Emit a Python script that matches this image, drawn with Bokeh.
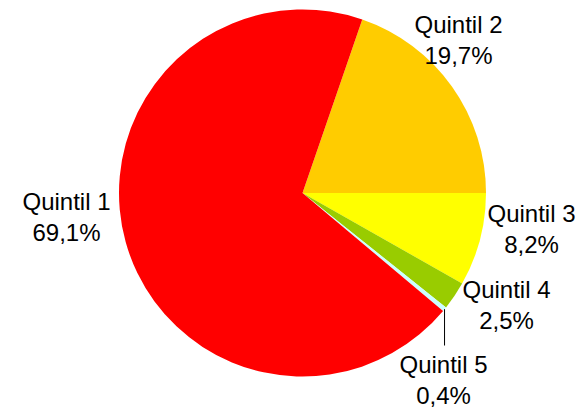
import math
from bokeh.plotting import figure
from bokeh.models import Range1d, ColumnDataSource
from bokeh.core.properties import value
from bokeh.embed import file_html
from bokeh.resources import INLINE

# data
categories = ["Quintil 1", "Quintil 2", "Quintil 3", "Quintil 4", "Quintil 5"]
shares = [69.1, 19.7, 8.2, 2.5, 0.4]
pct_labels = ["69,1%", "19,7%", "8,2%", "2,5%", "0,4%"]
colors = ["#FF0000", "#FFCC00", "#FFFF00", "#99CC00", "#CCFFFF"]

# layout
W, H = 582, 410
cx, cy, R = 302, 217.5, 183.5
# label anchors (x centre, baseline of first line) in plot coordinates
label_x = [66, 458, 531, 506, 443]
label_y1 = [209, 386, 197, 121, 46]
line_gap = 31

p = figure(width=W, height=H, output_backend="svg", toolbar_location=None,
           x_range=Range1d(0, W), y_range=Range1d(0, H), min_border=0)
p.axis.visible = False
p.grid.visible = False
p.outline_line_color = None
p.background_fill_color = "white"

total = sum(shares)
# clockwise order from the top boundary: Quintil 2, 3, 4, 5, then 1
order = [1, 2, 3, 4, 0]
a0 = shares[1] / total * 2 * math.pi
starts, ends, cols = [], [], []
mids = {}
cum = 0.0
for i in order:
    a_hi = a0 - cum / total * 2 * math.pi
    cum += shares[i]
    a_lo = a0 - cum / total * 2 * math.pi
    starts.append(a_lo)
    ends.append(a_hi)
    cols.append(colors[i])
    mids[i] = (a_lo + a_hi) / 2

src = ColumnDataSource(dict(x=[cx] * 5, y=[cy] * 5, s=starts, e=ends, c=cols))
p.wedge(x="x", y="y", radius=R, start_angle="s", end_angle="e", direction="anticlock",
        fill_color="c", line_color=None, source=src)

# leader line for Quintil 5
m = mids[4]
lx = cx + R * math.cos(m)
ly = cy + R * math.sin(m)
p.line(x=[lx, lx], y=[ly, 65], line_color="black", line_width=1)

p.text(x=label_x, y=label_y1, text=categories, text_font=value("Liberation Sans"),
       text_font_size="24px", text_align="center", text_baseline="alphabetic", text_color="black")
p.text(x=label_x, y=[v - line_gap for v in label_y1], text=pct_labels,
       text_font=value("Liberation Sans"), text_font_size="24px", text_align="center",
       text_baseline="alphabetic", text_color="black")

open("out.html", "w").write(file_html(p, INLINE))
